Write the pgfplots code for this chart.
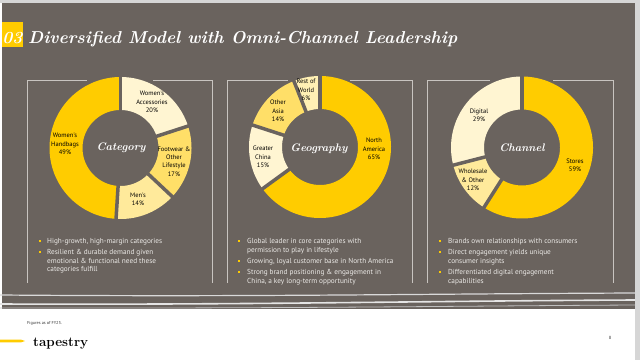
\documentclass[border=0pt]{standalone}
\usepackage{pgfplots}
\pgfplotsset{compat=1.18}
\usepackage{fontspec}
\newfontfamily\sans{PT Sans}
\definecolor{bg}{RGB}{106,99,94}
\definecolor{yel}{RGB}{255,204,0}
\definecolor{cream}{RGB}{255,245,210}
\definecolor{midy}{RGB}{255,223,104}
\definecolor{lighty}{RGB}{255,234,155}
\definecolor{rowy}{RGB}{255,240,180}
\definecolor{framec}{RGB}{200,196,192}
\definecolor{btext}{RGB}{236,234,231}
\definecolor{edge}{RGB}{214,214,214}

% one donut slice: cumulative share before it, its share (in %), colour
\newcommand{\slice}[3]{\addplot[draw=#3, line width=33bp, line cap=butt, line join=round,
   domain=90-3.6*(#1+#2):90-3.6*(#1), samples=90, data cs=polar, no markers] ({x},{54.5});}
\newcommand{\gap}[1]{\addplot[draw=bg, line width=3.5bp, domain=35:74, samples=2,
   data cs=polar, no markers] ({90-3.6*(#1)},{x});}
\newcommand{\donutaxis}[2]{at={(#1bp,#2bp)}, anchor=center, x=1bp, y=1bp,
   xmin=-80, xmax=80, ymin=-80, ymax=80, hide axis, clip=false}
\newcommand{\lab}[3]{\node[align=center, inner sep=0, text=black,
   font=\sans\fontsize{6.5}{8.3}\selectfont] at (#1,#2) {#3};}
\newcommand{\bl}[3]{\node[anchor=base west, inner sep=0, text=btext,
   font=\sans\fontsize{7.3}{8}\selectfont] at ({#1},{360-#2-2.6}) {#3};}
\newcommand{\bul}[2]{\fill[yel] ({#1-1.2},{360-#2-1.2}) rectangle ++(2.4,2.4);}

\begin{document}
\begin{tikzpicture}[x=1bp, y=1bp]
% canvas
\fill[edge] (0,0) rectangle (640,360);
\fill[white] (0,0) rectangle (635,357);
\fill[bg] (1.5,51) rectangle (635,357);
% waves at the bottom of the slide
\draw[white!85!black, line width=1.2bp] (0,65) .. controls (250,63) and (400,66) .. (635,67);
\draw[white!90!black, line width=1.6bp] (0,56) .. controls (250,55) and (420,59) .. (635,60);
\draw[white!75!black, line width=0.8bp] (0,52) .. controls (300,51.5) and (450,54) .. (635,55);

% title
\fill[yel] (2,313) rectangle (23,338);
\node[anchor=base, inner sep=0, text=white, font=\bfseries\itshape\fontsize{17}{17}\selectfont] at (12.5,317) {03};
\node[anchor=base west, inner sep=0, text=white] at (28,317)
  {\resizebox{429bp}{!}{\bfseries\itshape Diversified Model with Omni-Channel Leadership}};

% panel frames
\foreach \l/\r/\ga/\gb in {27/212/87/153, 227/412/288/350, 427/613/490/553} {
  \draw[framec, line width=0.9bp] (\l,77) -- (\l,280) -- (\ga,280);
  \draw[framec, line width=0.9bp] (\gb,280) -- (\r,280) -- (\r,77);
}

% Category
\begin{axis}[\donutaxis{120.5}{212}]
\slice{0}{20}{cream}
\slice{20}{17}{midy}
\slice{37}{14}{lighty}
\slice{51}{49}{yel}
\gap{0}\gap{20}\gap{37}\gap{51}
\end{axis}
% Geography
\begin{axis}[\donutaxis{320}{213}]
\slice{0}{65}{yel}
\slice{65}{15}{cream}
\slice{80}{14}{midy}
\slice{94}{6}{rowy}
\gap{0}\gap{65}\gap{80}\gap{94}
\end{axis}
% Channel
\begin{axis}[\donutaxis{522}{212.5}]
\slice{0}{59}{yel}
\slice{59}{12}{lighty}
\slice{71}{29}{cream}
\gap{0}\gap{59}\gap{71}
\end{axis}

% centre titles
\node[text=white, font=\bfseries\itshape\fontsize{11}{12}\selectfont] at (121,212) {Category};
\node[text=white, font=\bfseries\itshape\fontsize{11}{12}\selectfont] at (319,211) {Geography};
\node[text=white, font=\bfseries\itshape\fontsize{11}{12}\selectfont] at (522,212) {Channel};

% slice labels
\lab{152}{258}{Women's\\Accessories\\20\%}
\lab{174}{198.5}{Footwear \&\\Other\\Lifestyle\\17\%}
\lab{138}{161}{Men's\\14\%}
\lab{65}{216}{Women's\\Handbags\\49\%}
\lab{306}{270}{Rest of\\World\\6\%}
\lab{278}{249}{Other\\Asia\\14\%}
\lab{263}{203}{Greater\\China\\15\%}
\lab{374}{211}{North\\America\\65\%}
\lab{479}{245}{Digital\\29\%}
\lab{473}{180}{Wholesale\\\& Other\\12\%}
\lab{575}{195}{Stores\\59\%}

% bullets panel 1
\bul{40}{241}\bl{47}{241}{High-growth, high-margin categories}
\bul{40}{252}\bl{47}{252}{Resilient \& durable demand given}
\bl{47}{260.5}{emotional \& functional need these}
\bl{47}{269}{categories fulfill}
% bullets panel 2
\bul{239}{241}\bl{247}{241}{Global leader in core categories with}
\bl{247}{250}{permission to play in lifestyle}
\bul{239}{261}\bl{247}{261}{Growing, loyal customer base in North America}
\bul{239}{272}\bl{247}{272}{Strong brand positioning \& engagement in}
\bl{247}{281}{China, a key long-term opportunity}
% bullets panel 3
\bul{440}{241}\bl{448}{241}{Brands own relationships with consumers}
\bul{440}{252}\bl{448}{252}{Direct engagement yields unique}
\bl{448}{261}{consumer insights}
\bul{440}{272}\bl{448}{272}{Differentiated digital engagement}
\bl{448}{281}{capabilities}

% footer
\node[anchor=base west, inner sep=0, text=black!80, font=\sans\fontsize{4.3}{5}\selectfont] at (27,36) {Figures as of FY23.};
\fill[yel] (0,17.6) -- (21,17.6) -- (25,19) -- (21,20.4) -- (0,20.4) -- cycle;
\node[anchor=base west, inner sep=0, text=black, font=\bfseries\fontsize{13.5}{14}\selectfont] at (33,14) {tapestry};
\node[inner sep=0, text=black!80, font=\sans\fontsize{4.5}{5}\selectfont] at (610,22) {8};

\pgfresetboundingbox
\path[use as bounding box] (0,0) rectangle (640,360);
\end{tikzpicture}
\end{document}
